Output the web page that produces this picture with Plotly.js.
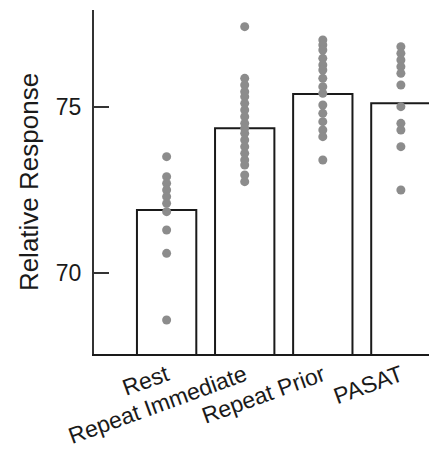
<!DOCTYPE html>
<html>
<head>
<meta charset="utf-8">
<script src="https://cdn.plot.ly/plotly-3.0.1.min.js"></script>
<style>html,body{margin:0;padding:0;background:#fff;}#chart{width:429px;height:451px;}</style>
</head>
<body>
<div id="chart"></div>
<script>
var categories = ["Rest", "Repeat Immediate", "Repeat Prior", "PASAT"];
var means = [71.9, 74.35, 75.38, 75.1];
var restPts = [73.5, 72.9, 72.7, 72.5, 72.3, 72.1, 71.85, 71.3, 70.6, 68.6];
var repImmPts = [77.4, 75.85, 75.65, 75.45, 75.3, 75.1, 74.9, 74.7, 74.5, 74.35, 74.2, 74.0, 73.8, 73.6, 73.4, 73.25, 72.95, 72.75];
var repPriorPts = [77.0, 76.85, 76.7, 76.45, 76.25, 76.1, 75.85, 75.6, 75.4, 75.05, 74.8, 74.55, 74.3, 74.1, 73.4];
var pasatPts = [76.8, 76.6, 76.4, 76.2, 76.0, 75.65, 75.0, 74.5, 74.3, 73.8, 72.5];
var yTicks = [70, 75];

var groups = [restPts, repImmPts, repPriorPts, pasatPts];
var dotX = [], dotY = [];
groups.forEach(function (g, i) {
  g.forEach(function (v) { dotX.push(categories[i]); dotY.push(v); });
});

var font = "Liberation Sans, Arial, Helvetica, sans-serif";

var data = [
  {
    type: "bar",
    x: categories,
    y: means,
    width: 0.76,
    marker: { color: "#ffffff", line: { color: "#1a1a1a", width: 2 } },
    hoverinfo: "skip"
  },
  {
    type: "scatter",
    mode: "markers",
    x: dotX,
    y: dotY,
    marker: { color: "#8c8c8c", size: 9 },
    hoverinfo: "skip"
  }
];

var layout = {
  width: 429,
  height: 451,
  margin: { l: 94, r: 0, t: 10, b: 97 },
  paper_bgcolor: "#ffffff",
  plot_bgcolor: "#ffffff",
  showlegend: false,
  font: { family: font, color: "#1a1a1a", size: 23 },
  xaxis: {
    type: "category",
    range: [-0.93, 3.36],
    showline: true,
    linecolor: "#1a1a1a",
    linewidth: 2,
    ticks: "",
    showgrid: false,
    zeroline: false,
    tickangle: -20,
    ticklabelstandoff: -3,
    tickfont: { family: font, size: 23, color: "#1a1a1a" }
  },
  yaxis: {
    range: [67.58, 77.9],
    tickvals: yTicks,
    ticktext: yTicks.map(String),
    ticks: "inside",
    ticklen: 15,
    tickwidth: 2,
    tickcolor: "#333",
    showline: true,
    linecolor: "#333",
    linewidth: 2,
    showgrid: false,
    zeroline: false,
    ticklabelstandoff: 6,
    tickfont: { family: font, size: 23, color: "#1a1a1a" },
    title: { text: "Relative Response", font: { family: font, size: 26, color: "#1a1a1a" }, standoff: 10 }
  }
};

Plotly.newPlot("chart", data, layout, { displayModeBar: false, staticPlot: true });
</script>
</body>
</html>
